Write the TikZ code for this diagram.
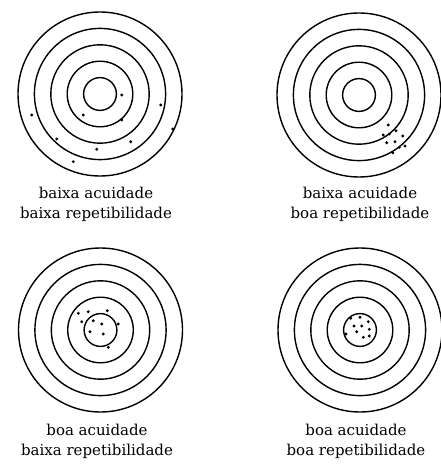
\documentclass[tikz,border=0pt]{standalone}
\usepackage{fontspec}
\setmainfont{DejaVu Serif}
\usetikzlibrary{positioning}
\tikzset{
  ring/.style    = {draw=black, line width=1.4pt},
  target/.style  = {circle, ring, minimum size=164pt, inner sep=0pt},
  hit/.style     = {fill=black},
  caption/.style = {align=center, anchor=base, inner sep=0pt,
                    font=\fontsize{15}{19.3}\selectfont},
}

\begin{document}
\begin{tikzpicture}[x=1pt, y=-1pt]
    \useasboundingbox[fill=white] (0,0) rectangle (440,465);
    % the four targets
    \node[target] (tA) at (100,94)  {};
    \node[target] (tB) at (359,95)  {};
    \node[target] (tC) at (100.5,330) {};
    \node[target] (tD) at (360,330) {};
    \foreach \t in {tA,tB,tC,tD}
        \foreach \r in {16.4,32.8,49.2,65.6}
            \draw[ring] (\t.center) circle[radius=\r];
    % hits
    \foreach \p in {(121.7,95),(83.3,115),(121.7,120),(160.7,105),(31.7,115),
                    (172.7,129),(56.7,139),(130.7,141.7),(96.7,149.3),(73.3,161.7)}
        \fill[hit] \p circle[radius=1.6];
    \foreach \p in {(388.3,125),(383.3,135),(389.3,134),(396,130.7),(402.7,136),
                    (386.7,142.7),(395,141.7),(405,146),(399.3,147.3),(392.7,152.7)}
        \fill[hit] \p circle[radius=1.6];
    \foreach \p in {(78.3,313.3),(88.3,311.7),(107.3,310.7),(81.7,321.7),(93.3,320.7),
                    (101.7,324),(118.3,324),(90,331.7),(103.3,334),(108.3,347.3)}
        \fill[hit] \p circle[radius=1.6];
    \foreach \p in {(350.7,318.3),(360,317.3),(368.3,321.7),(354,326),(361.7,326),
                    (356.7,331.7),(369.3,329.3),(346,334),(363.3,337.3),(369.3,336)}
        \fill[hit] \p circle[radius=1.6];
    % captions
    \node[caption] (cA) at (96,218)  {baixa acuidade\\baixa repetibilidade};
    \node[caption] (cB) at (360,218) {baixa acuidade\\boa repetibilidade};
    \node[caption] (cC) at (97,455)  {boa acuidade\\baixa repetibilidade};
    \node[caption] (cD) at (356,455) {boa acuidade\\boa repetibilidade};
\end{tikzpicture}
\end{document}
